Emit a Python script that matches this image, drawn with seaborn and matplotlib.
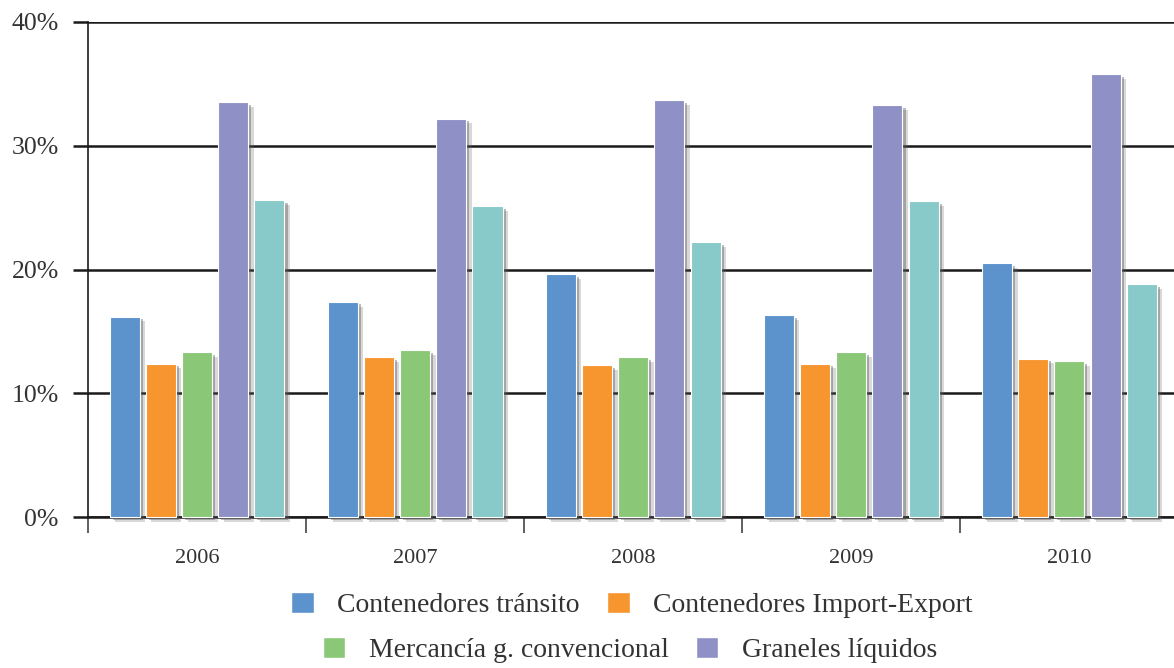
import pandas as pd
import numpy as np
import matplotlib.pyplot as plt
import matplotlib.patheffects as pe
from matplotlib.patches import Patch
from matplotlib.ticker import FixedLocator
import seaborn as sns

# Data (percent)
years = ['2006', '2007', '2008', '2009', '2010']
series = ['Contenedores tránsito', 'Contenedores Import-Export',
          'Mercancía g. convencional', 'Graneles líquidos', 'Otros']
transito = [16.2, 17.4, 19.6, 16.3, 20.5]
import_export = [12.4, 12.9, 12.3, 12.4, 12.8]
convencional = [13.3, 13.5, 12.9, 13.3, 12.6]
graneles = [33.5, 32.2, 33.7, 33.3, 35.8]
otros = [25.6, 25.1, 22.2, 25.5, 18.8]
colors = ['#5d93cd', '#f7952e', '#8ac878', '#8f91c6', '#88caca']

values = [transito, import_export, convencional, graneles, otros]
df = pd.DataFrame({
    'year': [y for s in values for y in years],
    'serie': [n for n, s in zip(series, values) for _ in s],
    'value': [v for s in values for v in s],
})

sns.set_theme(style='white')
plt.rcParams['font.family'] = ['Liberation Serif', 'DejaVu Serif']

fig = plt.figure(figsize=(11.74, 6.68), dpi=100)
ax = fig.add_axes([88 / 1174, 1 - 517 / 668, 1 - 88 / 1174, (517 - 22) / 668])

sns.barplot(data=df, x='year', y='value', hue='serie', hue_order=series,
            palette=colors, saturation=1, width=0.83, legend=False, ax=ax,
            zorder=3, edgecolor='white', linewidth=0.8)

# narrower bars with a gap between them, plus a soft drop shadow
shadow = [pe.SimplePatchShadow(offset=(4, -3.5), shadow_rgbFace='#666666', alpha=0.25),
          pe.SimplePatchShadow(offset=(2.2, -2), shadow_rgbFace='#555555', alpha=0.4),
          pe.Normal()]
for p in ax.patches:
    w = p.get_width()
    p.set_x(p.get_x() + w * 0.085)
    p.set_width(w * 0.83)
    p.set_path_effects(shadow)
    p.set_clip_on(False)

ax.set_ylim(0, 40)
ax.set_xlim(-0.5, 4.48)
ax.set_yticks([0, 10, 20, 30, 40])
ax.set_yticklabels([f'{v}%' for v in [0, 10, 20, 30, 40]], fontsize=18.5, color='#333333')
ax.yaxis.grid(True, color='#1a1a1a', linewidth=1.8, zorder=1)
ax.set_axisbelow(True)
ax.tick_params(axis='y', length=11, width=1.8, color='#1a1a1a', pad=10, left=True)

ax.set_xticks(range(len(years)))
ax.set_xticklabels(years, fontsize=16, color='#333333')
ax.tick_params(axis='x', which='major', length=0, pad=23)
ax.xaxis.set_minor_locator(FixedLocator(np.arange(-0.5, 5, 1)))
ax.tick_params(axis='x', which='minor', length=11.5, width=1.2, color='#444444', bottom=True)

ax.set_xlabel('')
ax.set_ylabel('')
for s in ['top', 'right']:
    ax.spines[s].set_visible(False)
ax.spines['left'].set_color('#1a1a1a')
ax.spines['left'].set_linewidth(1.2)
ax.spines['bottom'].set_color('#1a1a1a')
ax.spines['bottom'].set_linewidth(1.8)

# Legend in two centered rows, only the first four series
row1 = [Patch(facecolor=colors[i], label=series[i]) for i in (0, 1)]
row2 = [Patch(facecolor=colors[i], label=series[i]) for i in (2, 3)]
leg_kw = dict(loc='center', ncol=2, frameon=False, fontsize=20,
              handlelength=0.8, handleheight=0.8, handletextpad=0.85,
              columnspacing=1.0, labelcolor='#333333')
fig.legend(handles=row1, bbox_to_anchor=(632 / 1174, 1 - 605 / 668), **leg_kw)
fig.legend(handles=row2, bbox_to_anchor=(630 / 1174, 1 - 650 / 668), **leg_kw)

fig.savefig('out.png', dpi=100)
